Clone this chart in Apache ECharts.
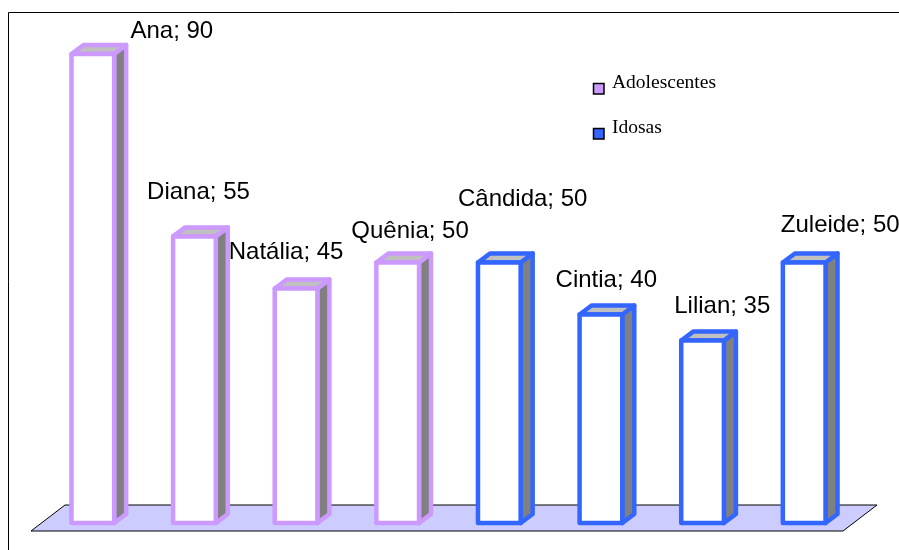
<!DOCTYPE html>
<html>
<head>
<meta charset="utf-8">
<script src="https://cdn.jsdelivr.net/npm/echarts@6/dist/echarts.min.js"></script>
<style>
  html, body { margin: 0; padding: 0; background: #fff; }
  #chart { width: 899px; height: 550px; }
</style>
</head>
<body>
<div id="chart"></div>
<script>
// Participants, in drawing order
const names = ['Ana', 'Diana', 'Natália', 'Quênia', 'Cândida', 'Cintia', 'Lilian', 'Zuleide'];
// Values for each group
const adolescentesNames = ['Ana', 'Diana', 'Natália', 'Quênia'];
const adolescentesValues = [90, 55, 45, 50];
const idosasNames = ['Cândida', 'Cintia', 'Lilian', 'Zuleide'];
const idosasValues = [50, 40, 35, 50];
// Legend entries
const legendLabels = ['Adolescentes', 'Idosas'];

// Hand-placed label offsets (from the bar's front-left corner and top edge)
const labelOffsets = {
  'Ana': [59, -23], 'Diana': [-26, -44], 'Natália': [-46, -36], 'Quênia': [-25, -31],
  'Cândida': [-20, -63], 'Cintia': [-24, -34], 'Lilian': [-7, -34], 'Zuleide': [-2, -37]
};

const COLORS = ['#CC99FF', '#3366FF'];
const DX = 12, DY = -9;       // depth of the 3D box
const BAR_RATIO = 0.42;

function makeRender(color) {
  return function (params, api) {
    const cat = api.value(0);
    const v = api.value(1);
    const base = api.coord([cat, 0]);
    const top = api.coord([cat, v]);
    const bw = api.size([1, 0])[0] * BAR_RATIO;
    const x0 = base[0] - bw / 2, x1 = base[0] + bw / 2;
    const yt = top[1], yb = base[1];
    const stroke = { stroke: color, lineWidth: 4.5, lineJoin: 'round' };
    const name = names[cat];
    const off = labelOffsets[name];
    return {
      type: 'group',
      children: [
        { type: 'polygon',
          shape: { points: [[x1, yt], [x1 + DX, yt + DY], [x1 + DX, yb + DY], [x1, yb]] },
          style: Object.assign({ fill: '#808080' }, stroke) },
        { type: 'polygon',
          shape: { points: [[x0, yt], [x0 + DX, yt + DY], [x1 + DX, yt + DY], [x1, yt]] },
          style: Object.assign({ fill: '#C0C0C0' }, stroke) },
        { type: 'rect',
          shape: { x: x0, y: yt, width: bw, height: yb - yt },
          style: Object.assign({ fill: '#FFFFFF' }, stroke) },
        { type: 'text',
          style: { text: name + '; ' + v, x: x0 + off[0], y: yt + off[1],
                   align: 'left', verticalAlign: 'middle',
                   font: '24px "Liberation Sans", Arial, sans-serif', fill: '#000' } }
      ]
    };
  };
}

const adolescentesData = adolescentesNames.map((n, i) => [names.indexOf(n), adolescentesValues[i]]);
const idosasData = idosasNames.map((n, i) => [names.indexOf(n), idosasValues[i]]);

// Legend: small bordered squares with serif captions
const legendGraphics = [];
legendLabels.forEach((label, i) => {
  const y = 83 + i * 45;
  legendGraphics.push({ type: 'rect', z: 10, shape: { x: 593.5, y: y + 0.5, width: 10.5, height: 10.5 },
    style: { fill: COLORS[i], stroke: '#000', lineWidth: 1.5 } });
  legendGraphics.push({ type: 'text', z: 10,
    style: { text: label, x: 612, y: y - 0.5, align: 'left', verticalAlign: 'middle',
             font: '19.5px "Liberation Serif", "Times New Roman", serif', fill: '#000' } });
});

const chart = echarts.init(document.getElementById('chart'), null, { renderer: 'canvas' });
chart.setOption({
  animation: false,
  backgroundColor: '#fff',
  grid: { left: 42, right: 44, top: 54, bottom: 27 },
  xAxis: { type: 'category', data: names, show: false },
  yAxis: { type: 'value', min: 0, max: 90, show: false, splitLine: { show: false } },
  graphic: [
    { type: 'rect', z: 0, shape: { x: 8.5, y: 12.5, width: 900, height: 600 },
      style: { fill: 'none', stroke: '#000', lineWidth: 1 } },
    { type: 'polygon', z: 1, shape: { points: [[31, 531], [843, 531], [877, 505], [65, 505]] },
      style: { fill: '#CCCCFF', stroke: '#000', lineWidth: 1 } }
  ].concat(legendGraphics),
  series: [
    { type: 'custom', name: legendLabels[0], renderItem: makeRender(COLORS[0]),
      itemStyle: { color: COLORS[0] }, data: adolescentesData, z: 5 },
    { type: 'custom', name: legendLabels[1], renderItem: makeRender(COLORS[1]),
      itemStyle: { color: COLORS[1] }, data: idosasData, z: 5 }
  ]
});
</script>
</body>
</html>
